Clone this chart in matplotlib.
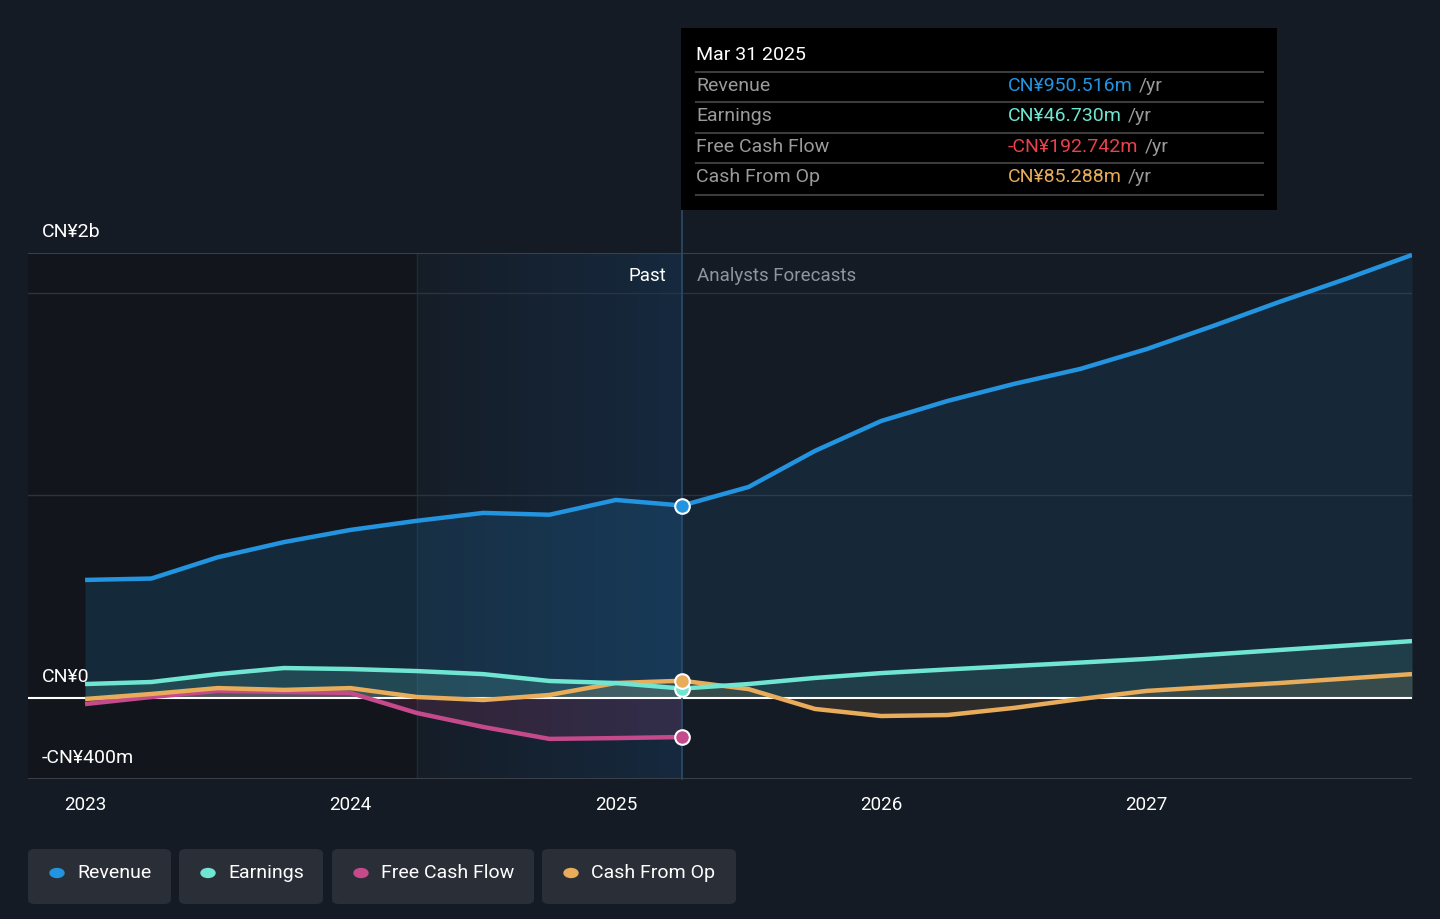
import numpy as np
import matplotlib.pyplot as plt
from matplotlib.patches import FancyBboxPatch, Rectangle

plt.rcParams['font.family'] = ['Roboto', 'DejaVu Sans']

# values in CN¥ millions, x in decimal years
past_x = [2023.0, 2023.25, 2023.5, 2023.75, 2024.0, 2024.25, 2024.5, 2024.75, 2025.0, 2025.25]
fc_x = [2025.25, 2025.5, 2025.75, 2026.0, 2026.25, 2026.5, 2026.75, 2027.0, 2027.25, 2027.5, 2027.75, 2028.0]

revenue_past = [583, 590, 695, 770, 830, 875, 914, 905, 978, 950.516]
revenue_fc = [950.516, 1042, 1220, 1368, 1467, 1551, 1625, 1723, 1837, 1956, 2069, 2188]

earnings_past = [69, 79, 118, 148, 143, 133, 118, 84, 74, 46.73]
earnings_fc = [46.73, 69, 99, 123, 141, 158, 175, 193, 215, 237, 259, 281]

fcf_past = [-30, 5, 35, 30, 25, -74, -143, -202, -198, -192.742]

cfo_past = [-5, 20, 49, 40, 49, 5, -10, 15, 74, 85.288]
cfo_fc = [85.288, 44, -54, -89, -84, -49, -5, 35, 55, 74, 96, 118]

series_names = ['Revenue', 'Earnings', 'Free Cash Flow', 'Cash From Op']
colors = ['#2394df', '#70e6d2', '#c44a8c', '#e8ac5a']
tip_values = ['CN¥950.516m', 'CN¥46.730m', '-CN¥192.742m', 'CN¥85.288m']
tip_colors = ['#2394df', '#70e6d2', '#e8424a', '#e8ac5a']
year_ticks = [2023, 2024, 2025, 2026, 2027]

BG = '#151b24'
fig = plt.figure(figsize=(14.4, 9.19), dpi=100, facecolor=BG)
ax = fig.add_axes([28 / 1440, 1 - 779 / 919, 1384 / 1440, 526 / 919])
ax.set_facecolor(BG)
X0, X1 = 2022.785, 2028.0
Y0, Y1 = -400, 2197.5
ax.set_xlim(X0, X1)
ax.set_ylim(Y0, Y1)

# darker past area and highlighted last year
ax.axvspan(X0, 2024.25, color='#12161c', zorder=0, lw=0)
grad = np.zeros((2, 256, 4))
grad[..., 0] = 0.10
grad[..., 1] = 0.36
grad[..., 2] = 0.62
grad[..., 3] = np.linspace(0.03, 0.22, 256)
ax.imshow(grad, extent=[2024.25, 2025.25, Y0, Y1], aspect='auto', zorder=0.5,
          interpolation='bilinear')
ax.axvline(2024.25, color='#1d2b3a', lw=1, zorder=0.6)

for y in [1000, 2000]:
    ax.axhline(y, color='#2c333c', lw=1, zorder=1)
ax.axhline(Y1, color='#3a4048', lw=1.5, zorder=1)
ax.axhline(Y0, color='#3a4048', lw=1.5, zorder=1)

# fills
ax.fill_between(past_x, revenue_past, 0, color=colors[0], alpha=0.16, lw=0, zorder=2)
ax.fill_between(fc_x, revenue_fc, 0, color=colors[0], alpha=0.10, lw=0, zorder=2)
ax.fill_between(past_x, earnings_past, 0, color=colors[1], alpha=0.16, lw=0, zorder=2)
ax.fill_between(fc_x, earnings_fc, 0, color=colors[1], alpha=0.12, lw=0, zorder=2)
ax.fill_between(past_x, fcf_past, 0, color=colors[2], alpha=0.16, lw=0, zorder=2)
ax.fill_between(past_x, cfo_past, 0, color=colors[3], alpha=0.14, lw=0, zorder=2)
ax.fill_between(fc_x, cfo_fc, 0, color=colors[3], alpha=0.12, lw=0, zorder=2)

ax.axhline(0, color='white', lw=1.5, zorder=3)

lw = 3.2
ax.plot(past_x, fcf_past, color=colors[2], lw=lw, zorder=4, solid_joinstyle='round', solid_capstyle='butt')
ax.plot(past_x, cfo_past, color=colors[3], lw=lw, zorder=4, solid_joinstyle='round', solid_capstyle='butt')
ax.plot(fc_x, cfo_fc, color=colors[3], lw=lw, zorder=4, solid_joinstyle='round', solid_capstyle='butt')
ax.plot(past_x, earnings_past, color=colors[1], lw=lw, zorder=4, solid_joinstyle='round', solid_capstyle='butt')
ax.plot(fc_x, earnings_fc, color=colors[1], lw=lw, zorder=4, solid_joinstyle='round', solid_capstyle='butt')
ax.plot(past_x, revenue_past, color=colors[0], lw=lw, zorder=4, solid_joinstyle='round', solid_capstyle='butt')
ax.plot(fc_x, revenue_fc, color=colors[0], lw=lw, zorder=4, solid_joinstyle='round', solid_capstyle='butt')

# markers at the hover date
for val, c in [(fcf_past[-1], colors[2]), (earnings_past[-1], colors[1]),
               (cfo_past[-1], colors[3]), (revenue_past[-1], colors[0])]:
    ax.plot([past_x[-1]], [val], 'o', ms=10.5, mfc=c, mec='white', mew=1.5, zorder=6)

# past / forecast divider
ax.plot([2025.25, 2025.25], [Y0, 3300], color='#2b4a68', lw=1.2, zorder=5, clip_on=False)
ax.text(2025.19, 2085, 'Past', color='white', fontsize=13.5, ha='right', va='center', zorder=6)
ax.text(2025.305, 2085, 'Analysts Forecasts', color='#8e959d', fontsize=13.5, ha='left', va='center', zorder=6)

for s in ax.spines.values():
    s.set_visible(False)
ax.set_xticks(year_ticks)
ax.set_xticklabels([str(y) for y in year_ticks])
ax.tick_params(axis='x', colors='white', labelsize=13.5, length=0, pad=12)
ax.set_yticks([])

# y labels
for yv, lab in [(2300, 'CN¥2b'), (103, 'CN¥0'), (-297, '-CN¥400m')]:
    ax.text(2022.838, yv, lab, color='white', fontsize=14, ha='left', va='center', zorder=6, clip_on=False)

# tooltip
fig.patches.append(Rectangle((681 / 1440, 1 - 210 / 919), 596 / 1440, 182 / 919,
                             transform=fig.transFigure, facecolor='black', edgecolor='none', zorder=10))
fig.text(696 / 1440, 1 - 55 / 919, 'Mar 31 2025', color='white', fontsize=14, va='center', zorder=11)
for yy in [72, 102, 133, 163, 195]:
    fig.lines.append(plt.Line2D([696 / 1440, 1263 / 1440], [1 - yy / 919, 1 - yy / 919],
                                transform=fig.transFigure, color='#3c3c3c', lw=1.5, zorder=11))
for i, yy in enumerate([86, 116, 147, 177]):
    fig.text(696 / 1440, 1 - yy / 919, series_names[i], color='#9a9a9a', fontsize=14, va='center', zorder=11)
    t = fig.text(1008 / 1440, 1 - yy / 919, tip_values[i], color=tip_colors[i], fontsize=14, va='center', zorder=11)
    fig.canvas.draw()
    bb = t.get_window_extent()
    fig.text((bb.x1 + 6) / 1440, 1 - yy / 919, '/yr', color='#9a9a9a', fontsize=14, va='center', zorder=11)

# legend boxes
boxes = [(28, 171), (179, 323), (332, 534), (542, 736)]
for (x0, x1), name, c in zip(boxes, series_names, colors):
    fig.patches.append(FancyBboxPatch((x0 / 1440, 1 - 904 / 919), (x1 - x0) / 1440, 55 / 919,
                                      boxstyle='round,pad=0,rounding_size=0.005',
                                      transform=fig.transFigure, facecolor='#2a2f37',
                                      edgecolor='none', zorder=1))
    fig.patches.append(plt.Circle(((x0 + 29) / 1440, 1 - 873 / 919), 7 / 1440,
                                  transform=fig.transFigure, color=c, zorder=2))
    fig.text((x0 + 49) / 1440, 1 - 873 / 919, name, color='white', fontsize=14, va='center', zorder=3)

fig.savefig('out.png', dpi=100, facecolor=BG)
